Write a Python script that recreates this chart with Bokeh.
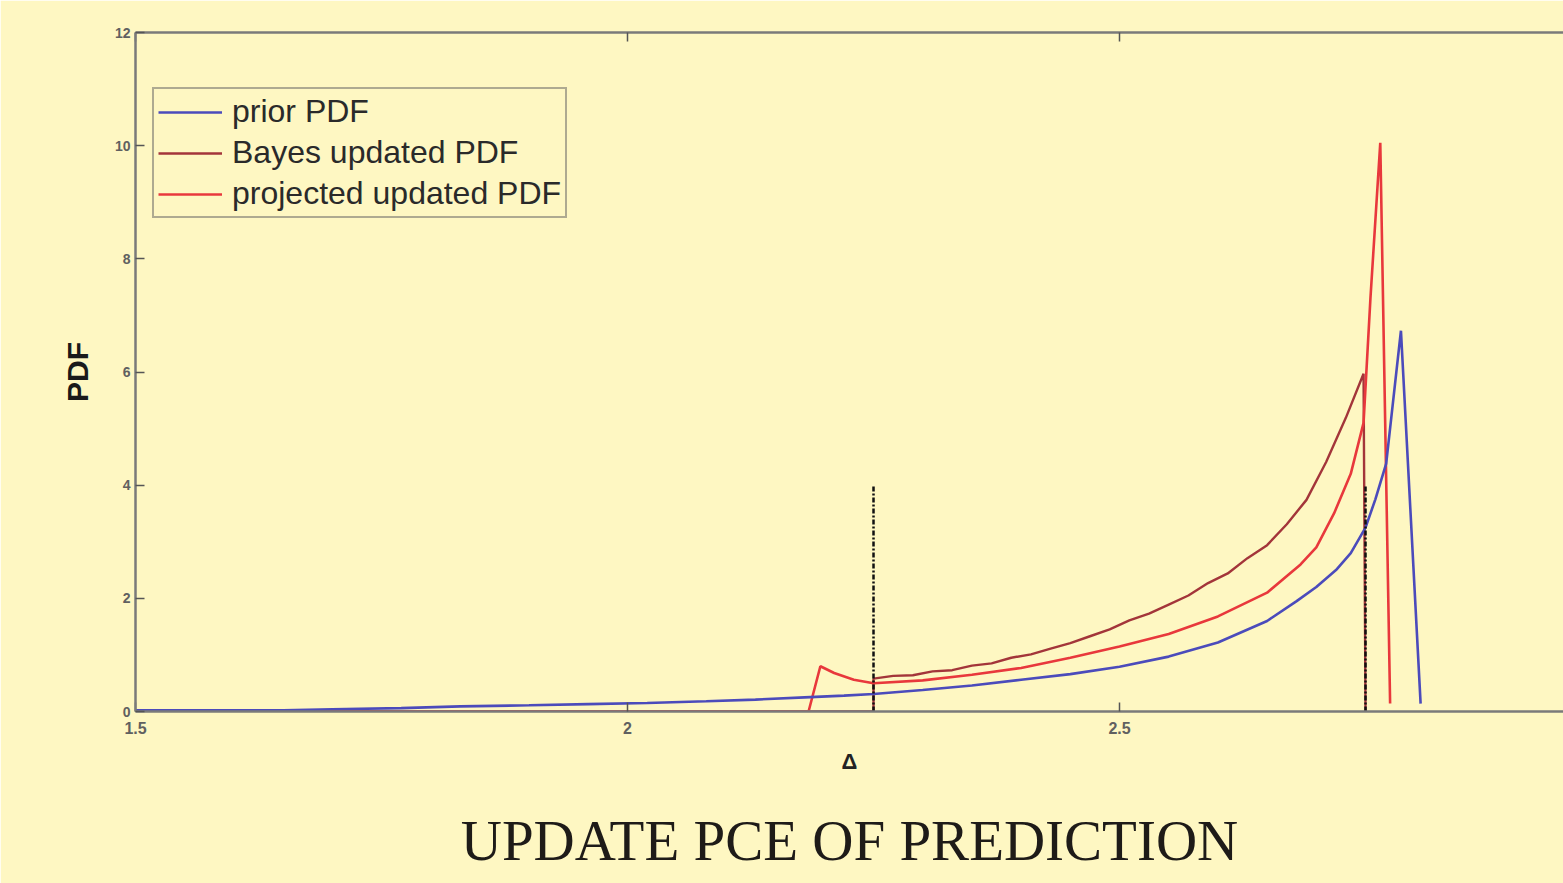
from bokeh.plotting import figure
from bokeh.models import LinearAxis, Legend, LegendItem, Range1d, FixedTicker
from bokeh.embed import file_html
from bokeh.resources import INLINE

# prior PDF
prior_x = [1.50, 1.65, 1.70, 1.77, 1.83, 1.90, 1.96, 2.02, 2.08, 2.13, 2.18, 2.22, 2.25,
           2.30, 2.35, 2.40, 2.45, 2.50, 2.55, 2.60, 2.65, 2.68, 2.70, 2.72, 2.735, 2.75,
           2.76, 2.771, 2.786, 2.806]
prior_y = [0.02, 0.02, 0.04, 0.06, 0.09, 0.11, 0.13, 0.15, 0.18, 0.21, 0.25, 0.28, 0.31,
           0.38, 0.46, 0.56, 0.66, 0.79, 0.97, 1.22, 1.60, 1.95, 2.20, 2.50, 2.80, 3.25,
           3.75, 4.38, 6.73, 0.14]

# Bayes updated PDF (supported on [2.25, 2.75])
bayes_x = [1.65, 2.25, 2.25, 2.27, 2.29, 2.31, 2.33, 2.35, 2.37, 2.39, 2.41, 2.43, 2.45,
           2.47, 2.49, 2.51, 2.53, 2.55, 2.57, 2.59, 2.61, 2.63, 2.65, 2.67, 2.69, 2.71,
           2.73, 2.748, 2.75]
bayes_y = [0.00, 0.00, 0.58, 0.63, 0.64, 0.71, 0.73, 0.81, 0.85, 0.95, 1.01, 1.11, 1.21,
           1.33, 1.45, 1.61, 1.73, 1.89, 2.05, 2.27, 2.44, 2.71, 2.94, 3.31, 3.74, 4.41,
           5.19, 5.97, 0.00]

# projected updated PDF
proj_x = [1.65, 2.184, 2.196, 2.21, 2.23, 2.25, 2.30, 2.35, 2.40, 2.45, 2.50, 2.55, 2.60,
          2.65, 2.684, 2.70, 2.718, 2.735, 2.748, 2.755, 2.765, 2.775]
proj_y = [0.00, 0.00, 0.80, 0.68, 0.56, 0.50, 0.55, 0.65, 0.77, 0.95, 1.15, 1.37, 1.68,
          2.10, 2.60, 2.90, 3.50, 4.20, 5.10, 7.30, 10.05, 0.14]

# bounds of the updated support
bound_x = [2.25, 2.75]
bound_top = 4.0

x_ticks = [1.5, 2.0, 2.5, 3.0]
x_tick_labels = {1.5: "1.5", 2.0: "2", 2.5: "2.5", 3.0: "3"}
y_ticks = [0, 2, 4, 6, 8, 10, 12]

series_names = ["prior PDF", "Bayes updated PDF", "projected updated PDF"]
series_colors = ["#4b4bbb", "#a3353a", "#e8383c"]
caption_text = "UPDATE PCE OF PREDICTION"

BG = "#fef7c2"
AXIS = "#7a7a7a"

p = figure(width=1563, height=883, output_backend="svg", toolbar_location=None,
           x_range=Range1d(1.5, 2.9512), y_range=Range1d(0, 12),
           x_axis_location=None, y_axis_location=None,
           min_border_left=135, min_border_top=32, min_border_bottom=172,
           min_border_right=0)
p.background_fill_color = BG
p.border_fill_color = BG
p.outline_line_color = None
p.xgrid.visible = False
p.ygrid.visible = False


def style_axis(ax, label_size="16px"):
    ax.axis_line_color = AXIS
    ax.axis_line_width = 2.5
    ax.major_tick_in = 9
    ax.major_tick_out = 0
    ax.major_tick_line_color = "#555555"
    ax.major_tick_line_width = 1.5
    ax.minor_tick_line_color = None
    ax.major_label_text_color = "#606060"
    ax.major_label_text_font = "Liberation Sans"
    ax.major_label_text_font_size = label_size
    ax.major_label_text_font_style = "bold"


xb = LinearAxis(ticker=FixedTicker(ticks=x_ticks), major_label_overrides=x_tick_labels,
                axis_label="Δ")
style_axis(xb)
xb.major_label_standoff = 10
xb.axis_label_standoff = 12
xb.axis_label_text_font = "Liberation Sans"
xb.axis_label_text_font_size = "22px"
xb.axis_label_text_font_style = "bold"
xb.axis_label_text_color = "#222222"
p.add_layout(xb, "below")

# caption line under the x axis (no ticks, no axis line)
cap = LinearAxis(ticker=FixedTicker(ticks=[]), axis_label=caption_text)
cap.axis_line_color = None
cap.major_tick_line_color = None
cap.minor_tick_line_color = None
cap.major_label_standoff = 0
cap.axis_label_standoff = 32
cap.axis_label_text_font = "Liberation Serif"
cap.axis_label_text_font_size = "57px"
cap.axis_label_text_font_style = "normal"
cap.axis_label_text_color = "#1e1b18"
p.add_layout(cap, "below")

# top border of the box, ticks only
xt = LinearAxis(ticker=FixedTicker(ticks=x_ticks),
                major_label_overrides={t: "" for t in x_ticks})
style_axis(xt)
xt.major_label_standoff = 0
p.add_layout(xt, "above")

yl = LinearAxis(ticker=FixedTicker(ticks=y_ticks), axis_label="PDF")
style_axis(yl, "14px")
yl.major_label_standoff = 5
yl.axis_label_standoff = 18
yl.axis_label_text_font = "Liberation Sans"
yl.axis_label_text_font_size = "30px"
yl.axis_label_text_font_style = "bold"
yl.axis_label_text_color = "#1a1a1a"
p.add_layout(yl, "left")

r_prior = p.line(prior_x, prior_y, line_color=series_colors[0], line_width=2.6)
r_bayes = p.line(bayes_x, bayes_y, line_color=series_colors[1], line_width=2.4)
r_proj = p.line(proj_x, proj_y, line_color=series_colors[2], line_width=2.6)
p.renderers.remove(r_prior)
p.renderers.append(r_prior)

for bx in bound_x:
    p.line([bx, bx], [0, bound_top], line_color="#111111", line_width=2.5,
           line_dash="5 2 2 2")

legend = Legend(items=[LegendItem(label=series_names[0], renderers=[r_prior]),
                       LegendItem(label=series_names[1], renderers=[r_bayes]),
                       LegendItem(label=series_names[2], renderers=[r_proj])],
                location=(17, 493))
legend.background_fill_color = BG
legend.background_fill_alpha = 1.0
legend.border_line_color = "#5e5e5e"
legend.border_line_width = 2.5
legend.label_text_font = "Liberation Sans"
legend.label_text_font_size = "32px"
legend.label_text_color = "#2a2a2a"
legend.glyph_width = 64
legend.glyph_height = 32
legend.label_height = 32
legend.label_standoff = 10
legend.spacing = 4
legend.padding = 4
legend.margin = 0
p.add_layout(legend, "center")

open("out.html", "w").write(file_html(p, INLINE))
